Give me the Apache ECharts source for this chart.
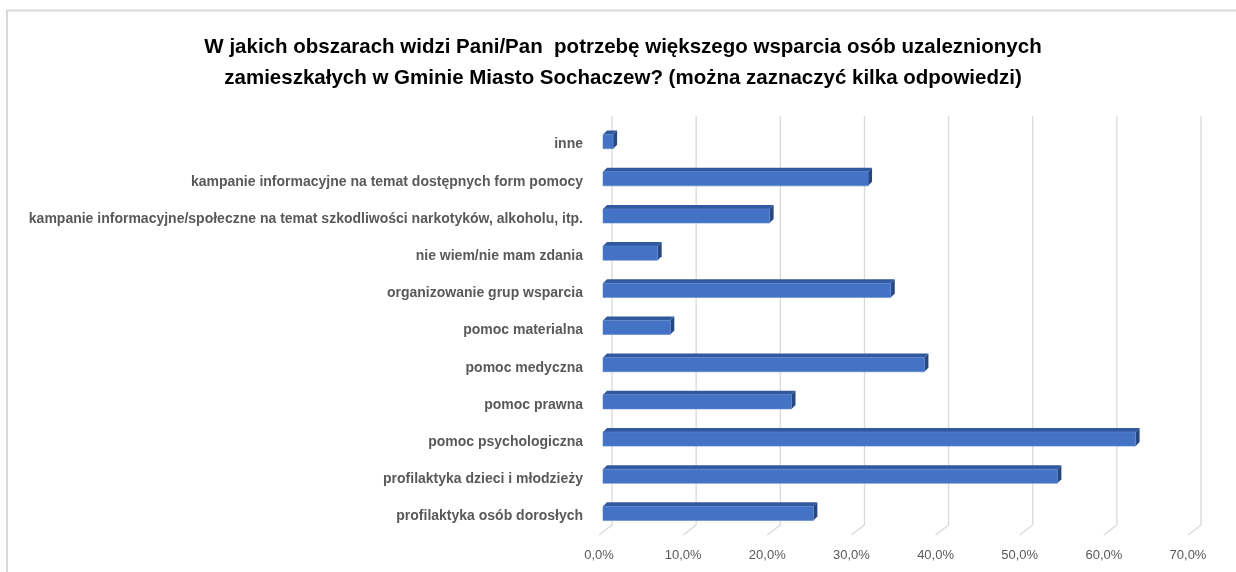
<!DOCTYPE html>
<html>
<head>
<meta charset="utf-8">
<script src="https://cdn.jsdelivr.net/npm/echarts@6/dist/echarts.min.js"></script>
<style>
  html, body { margin: 0; padding: 0; background: #fff; }
  #chart { width: 1236px; height: 572px; }
</style>
</head>
<body>
<div id="chart"></div>
<script>
// Survey answers (percent of respondents, several answers allowed)
const categories = [
  'inne',
  'kampanie informacyjne na temat dostępnych form pomocy',
  'kampanie informacyjne/społeczne na temat szkodliwości narkotyków, alkoholu, itp.',
  'nie wiem/nie mam zdania',
  'organizowanie grup wsparcia',
  'pomoc materialna',
  'pomoc medyczna',
  'pomoc prawna',
  'pomoc psychologiczna',
  'profilaktyka dzieci i młodzieży',
  'profilaktyka osób dorosłych'
];
const shares = [1.2, 31.5, 19.8, 6.5, 34.2, 8.0, 38.2, 22.4, 63.3, 54.0, 25.0];
const valueTicks = [0, 10, 20, 30, 40, 50, 60, 70];

const titleText = 'W jakich obszarach widzi Pani/Pan  potrzebę większego wsparcia osób uzaleznionych\n' +
  'zamieszkałych w Gminie Miasto Sochaczew? (można zaznaczyć kilka odpowiedzi)';

// Oblique depth of the plot box (back wall offset) and of a bar
const WALL = [13, -10];
const BAR_OFF = [4, -3];
const BAR_DEPTH = [4, -4];

const chart = echarts.init(document.getElementById('chart'));

function fmtPct(v) {
  return v.toFixed(1).replace('.', ',') + '%';
}

function renderWall(params, api) {
  const cs = params.coordSys;
  const p = api.coord([api.value(0), 0]);
  const x = p[0];
  const bottom = cs.y + cs.height;
  const style = { stroke: '#d9d9d9', lineWidth: 1.3, fill: null };
  return {
    type: 'group',
    children: [
      { type: 'line', shape: { x1: x + WALL[0], y1: cs.y + WALL[1], x2: x + WALL[0], y2: bottom + WALL[1] }, style },
      { type: 'line', shape: { x1: x, y1: bottom, x2: x + WALL[0], y2: bottom + WALL[1] }, style }
    ]
  };
}

function renderBar(params, api) {
  const idx = api.value(1);
  const start = api.coord([0, idx]);
  const end = api.coord([api.value(0), idx]);
  const band = api.size([0, 1])[1];
  const h = band * 0.38;
  const x0 = start[0] + BAR_OFF[0];
  const x1 = end[0] + BAR_OFF[0];
  const yt = start[1] + BAR_OFF[1] - h / 2;
  const yb = yt + h;
  const dx = BAR_DEPTH[0], dy = BAR_DEPTH[1];
  return {
    type: 'group',
    children: [
      { type: 'polygon', shape: { points: [[x0, yt], [x1, yt], [x1 + dx, yt + dy], [x0 + dx, yt + dy]] },
        style: { fill: '#30599f' } },
      { type: 'polygon', shape: { points: [[x1, yt], [x1 + dx, yt + dy], [x1 + dx, yb + dy], [x1, yb]] },
        style: { fill: '#264780' } },
      { type: 'rect', shape: { x: x0, y: yt, width: x1 - x0, height: h },
        style: { fill: '#4472c4', stroke: '#5a84cf', lineWidth: 0.6 } }
    ]
  };
}

chart.setOption({
  backgroundColor: '#fff',
  animation: false,
  title: {
    text: titleText,
    left: 618,
    top: 27,
    textAlign: 'center',
    textStyle: {
      fontFamily: 'Liberation Sans',
      fontWeight: 'bold',
      fontSize: 20.5,
      lineHeight: 31,
      color: '#000'
    }
  },
  graphic: [{
    type: 'rect',
    shape: { x: 7, y: 10.5, width: 1260, height: 620 },
    style: { fill: null, stroke: '#d9d9d9', lineWidth: 2 },
    silent: true,
    z: -10
  }],
  grid: { left: 599, right: 48, top: 126, bottom: 37, containLabel: false },
  xAxis: {
    type: 'value',
    min: 0,
    max: 70,
    interval: 10,
    axisLine: { show: false },
    axisTick: { show: false },
    splitLine: { show: false },
    axisLabel: {
      margin: 14,
      fontFamily: 'Liberation Sans',
      fontSize: 13,
      color: '#595959',
      formatter: fmtPct
    }
  },
  yAxis: {
    type: 'category',
    data: categories,
    inverse: true,
    axisLine: { show: false },
    axisTick: { show: false },
    splitLine: { show: false },
    axisLabel: {
      margin: 16,
      fontFamily: 'Liberation Sans',
      fontWeight: 'bold',
      fontSize: 14,
      color: '#595959'
    }
  },
  series: [
    {
      type: 'custom',
      name: 'wall',
      renderItem: renderWall,
      data: valueTicks.map(v => [v, 0]),
      encode: { x: 0, y: 1 },
      silent: true,
      z: 1
    },
    {
      type: 'custom',
      name: 'odpowiedzi',
      renderItem: renderBar,
      data: shares.map((v, i) => [v, i]),
      encode: { x: 0, y: 1 },
      z: 2
    }
  ]
});
</script>
</body>
</html>
